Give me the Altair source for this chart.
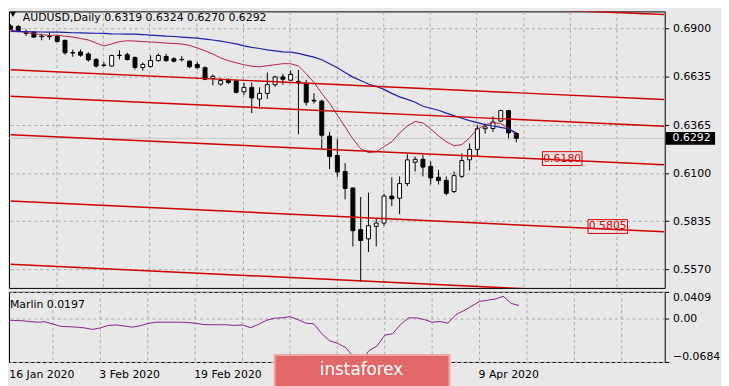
import altair as alt
import pandas as pd

FONT = "DejaVu Sans"

# ---------------- data ----------------
bar_index = list(range(66))
opens = [0.6912,0.6909,0.6874,0.6878,0.6856,0.6853,0.6855,0.6833,0.6763,0.6769,
         0.6758,0.6727,0.6694,0.6691,0.6749,0.6754,0.6738,0.6683,0.6689,0.6721,
         0.6744,0.6731,0.6726,0.6718,0.6700,0.6682,0.6622,0.6591,0.6611,0.6609,
         0.6549,0.6573,0.6509,0.6540,0.6588,0.6631,0.6613,0.6606,0.6595,0.6502,
         0.6497,0.6304,0.6197,0.6109,0.6018,0.5788,0.5737,0.5806,0.5824,0.5973,
         0.5961,0.6042,0.6160,0.6176,0.6137,0.6077,0.6060,0.5998,0.6082,0.6173,
         0.6231,0.6345,0.6346,0.6387,0.6445,0.6319]
highs = [0.6922,0.6918,0.6893,0.6884,0.6869,0.6877,0.6862,0.6836,0.6782,0.6782,
         0.6767,0.6736,0.6713,0.6754,0.6778,0.6765,0.6745,0.6711,0.6750,0.6760,
         0.6758,0.6740,0.6746,0.6722,0.6713,0.6689,0.6645,0.6624,0.6624,0.6615,
         0.6600,0.6600,0.6573,0.6655,0.6637,0.6649,0.6667,0.6670,0.6615,0.6540,
         0.6505,0.6327,0.6291,0.6155,0.6018,0.5968,0.5991,0.5851,0.5986,0.6077,
         0.6082,0.6204,0.6191,0.6200,0.6164,0.6118,0.6082,0.6109,0.6209,0.6264,
         0.6364,0.6373,0.6413,0.6449,0.6449,0.6324]
lows = [0.6890,0.6884,0.6857,0.6846,0.6833,0.6836,0.6822,0.6754,0.6742,0.6742,
        0.6716,0.6682,0.6687,0.6689,0.6727,0.6722,0.6672,0.6666,0.6682,0.6716,
        0.6714,0.6711,0.6716,0.6680,0.6673,0.6613,0.6585,0.6582,0.6591,0.6540,
        0.6531,0.6431,0.6455,0.6509,0.6577,0.6588,0.6609,0.6315,0.6473,0.6484,
        0.6236,0.6122,0.6077,0.5955,0.5695,0.5500,0.5664,0.5695,0.5809,0.5918,
        0.5873,0.6028,0.6109,0.6082,0.6037,0.6037,0.5977,0.5990,0.6073,0.6115,
        0.6191,0.6318,0.6327,0.6382,0.6286,0.6270]
closes = [0.6894,0.6887,0.6872,0.6851,0.6853,0.6855,0.6827,0.6764,0.6765,0.6751,
          0.6725,0.6691,0.6697,0.6749,0.6751,0.6727,0.6683,0.6700,0.6721,0.6749,
          0.6721,0.6718,0.6728,0.6687,0.6682,0.6618,0.6634,0.6611,0.6600,0.6546,
          0.6573,0.6515,0.6540,0.6588,0.6631,0.6618,0.6645,0.6598,0.6491,0.6498,
          0.6309,0.6191,0.6106,0.6015,0.5782,0.5728,0.5809,0.5824,0.5973,0.5958,
          0.6042,0.6173,0.6176,0.6133,0.6073,0.6059,0.5988,0.6086,0.6169,0.6231,
          0.6345,0.6355,0.6382,0.6445,0.6322,0.6292]
ma_fast = [0.6889,0.6884,0.6875,0.6870,0.6865,0.6859,0.6862,0.6856,0.6851,0.6843,
           0.6835,0.6818,0.6802,0.6813,0.6826,0.6831,0.6829,0.6826,0.6824,0.6821,
           0.6818,0.6815,0.6813,0.6805,0.6791,0.6775,0.6758,0.6736,0.6720,0.6709,
           0.6698,0.6690,0.6687,0.6693,0.6698,0.6704,0.6704,0.6691,0.6649,0.6600,
           0.6540,0.6486,0.6420,0.6355,0.6289,0.6235,0.6213,0.6218,0.6246,0.6273,
           0.6322,0.6360,0.6385,0.6377,0.6344,0.6306,0.6273,0.6251,0.6257,0.6295,
           0.6344,0.6366,0.6377,0.6374,0.6349,0.6306]
ma_slow = [0.6882,0.6881,0.6881,0.6880,0.6879,0.6878,0.6878,0.6877,0.6875,0.6874,
           0.6873,0.6872,0.6871,0.6869,0.6868,0.6867,0.6867,0.6865,0.6862,0.6859,
           0.6856,0.6854,0.6851,0.6848,0.6845,0.6840,0.6835,0.6829,0.6821,0.6813,
           0.6802,0.6794,0.6788,0.6780,0.6775,0.6769,0.6768,0.6761,0.6750,0.6740,
           0.6726,0.6704,0.6682,0.6655,0.6630,0.6611,0.6592,0.6578,0.6562,0.6540,
           0.6521,0.6507,0.6491,0.6469,0.6458,0.6447,0.6431,0.6417,0.6403,0.6390,
           0.6379,0.6368,0.6360,0.6352,0.6344,0.6322]
marlin = [-0.0030,-0.0037,-0.0040,-0.0053,-0.0064,-0.0057,-0.0091,-0.0130,-0.0134,-0.0141,
          -0.0153,-0.0176,-0.0153,-0.0114,-0.0107,-0.0122,-0.0141,-0.0122,-0.0084,-0.0064,
          -0.0064,-0.0064,-0.0064,-0.0068,-0.0079,-0.0099,-0.0104,-0.0104,-0.0104,-0.0114,
          -0.0107,-0.0150,-0.0099,-0.0037,-0.0002,0.0004,0.0024,-0.0022,-0.0079,-0.0088,
          -0.0238,-0.0353,-0.0392,-0.0453,-0.0592,-0.0676,-0.0507,-0.0438,-0.0268,-0.0242,
          -0.0099,0.0004,0.0004,-0.0022,-0.0064,-0.0053,-0.0079,0.0055,0.0116,0.0186,
          0.0260,0.0278,0.0297,0.0340,0.0229,0.0197]

# channel / trend lines (bar index, price) endpoints
line_x1 = [0, 0, 0, 0, 0, 0]
line_p1 = [0.71219, 0.66710, 0.65238, 0.63111, 0.59458, 0.55968]
line_x2 = [84, 84, 84, 84, 84, 84]
line_p2 = [0.69758, 0.65063, 0.63591, 0.61465, 0.57757, 0.54246]

level_text = ["0.6180", "0.5805"]
level_idx = [70.9, 76.75]
level_price = [0.6180, 0.5805]

price_ticks = [0.6900, 0.6635, 0.6365, 0.6100, 0.5835, 0.5570]
osc_ticks = [0.0409, 0.0, -0.0684]
grid_idx = [5.875, 11.875, 17.875, 23.875, 29.875, 35.875, 41.875, 47.875,
            53.875, 59.875, 65.875, 71.875, 77.875]
# the 6 Mar / 24 Mar labels are hidden under the watermark in the reference
date_idx = [0, 12, 24, 60]
date_text = ["16 Jan 2020", "3 Feb 2020", "19 Feb 2020", "9 Apr 2020"]

symbol_title = "AUDUSD,Daily  0.6319 0.6324 0.6270 0.6292"
last_price = [0.6292]
osc_title = "Marlin 0.0197"

# ---------------- frames ----------------
df = pd.DataFrame({"i": bar_index, "open": opens, "high": highs, "low": lows,
                   "close": closes, "ma_fast": ma_fast, "ma_slow": ma_slow,
                   "marlin": marlin})
lines_df = pd.DataFrame({"x1": line_x1, "p1": line_p1, "x2": line_x2, "p2": line_p2})
levels_df = pd.DataFrame({"i": level_idx, "p": level_price, "t": level_text})
last_df = pd.DataFrame({"p": last_price, "t": ["%.4f" % v for v in last_price]})
dates_df = pd.DataFrame({"i": date_idx, "t": date_text})

W = 664
H_MAIN = 280
H_OSC = 71
BG = "#e8e8e8"
GRID = "#a8a8a8"

xs = alt.Scale(domain=[0.4375, 83.4375], nice=False, zero=False)
ys = alt.Scale(domain=[0.5466, 0.69927], nice=False, zero=False)
os_ = alt.Scale(domain=[-0.0684, 0.0409], nice=False, zero=False)

x_axis = alt.Axis(values=grid_idx, grid=True, gridDash=[3, 3], gridColor=GRID,
                  labels=False, ticks=False, domain=False, title=None)
y_axis = alt.Axis(orient="right", values=price_ticks, format=".4f", grid=True,
                  gridDash=[3, 3], gridColor=GRID, domain=False, tickColor="black",
                  tickSize=4, labelPadding=4, labelFont=FONT, labelFontSize=11,
                  labelColor="black", title=None)

base = alt.Chart(df)

wicks = base.mark_rule(color="black", strokeWidth=1, clip=True).encode(
    x=alt.X("i:Q", scale=xs, axis=x_axis),
    y=alt.Y("low:Q", scale=ys, axis=y_axis),
    y2="high:Q",
)
bodies = base.mark_bar(size=4, stroke="black", strokeWidth=1, clip=True).encode(
    x=alt.X("i:Q", scale=xs),
    y=alt.Y("open:Q", scale=ys),
    y2="close:Q",
    fill=alt.when("datum.close >= datum.open").then(alt.value("white")).otherwise(alt.value("black")),
)
price_line = alt.Chart(last_df).mark_rule(color="#c4c4c4", strokeWidth=1).encode(
    y=alt.Y("p:Q", scale=ys)
)
ma_f = base.mark_line(color="#b5204a", strokeWidth=1, clip=True).encode(
    x=alt.X("i:Q", scale=xs), y=alt.Y("ma_fast:Q", scale=ys))
ma_s = base.mark_line(color="#2020a8", strokeWidth=1.2, clip=True).encode(
    x=alt.X("i:Q", scale=xs), y=alt.Y("ma_slow:Q", scale=ys))
chan = alt.Chart(lines_df).mark_rule(color="#d20000", strokeWidth=1.5, clip=True).encode(
    x=alt.X("x1:Q", scale=xs), x2="x2:Q",
    y=alt.Y("p1:Q", scale=ys), y2="p2:Q")

lvl_box = alt.Chart(levels_df).mark_rect(
    fillOpacity=0, stroke="#e00000", strokeWidth=1,
    xOffset=-20, x2Offset=20, yOffset=-7, y2Offset=7).encode(
    x=alt.X("i:Q", scale=xs), x2="i:Q", y=alt.Y("p:Q", scale=ys), y2="p:Q")
lvl_txt = alt.Chart(levels_df).mark_text(
    color="#e00000", font=FONT, fontSize=11, align="center", baseline="middle").encode(
    x=alt.X("i:Q", scale=xs), y=alt.Y("p:Q", scale=ys), text="t:N")

last_box = alt.Chart(last_df).mark_rect(color="black", yOffset=-6.5, y2Offset=6.5).encode(
    x=alt.value(W + 1), x2=alt.value(W + 51), y=alt.Y("p:Q", scale=ys), y2="p:Q")
last_txt = alt.Chart(last_df).mark_text(
    color="white", font=FONT, fontSize=11, align="left", baseline="middle").encode(
    x=alt.value(W + 8), y=alt.Y("p:Q", scale=ys), text="t:N")

tri = alt.Chart(last_df).mark_point(shape="triangle-down", filled=True, color="black",
                                     size=36, opacity=1).encode(
    x=alt.value(4), y=alt.value(3))
title_txt = alt.Chart(last_df).mark_text(
    text=symbol_title, font=FONT, fontSize=11, color="black", align="left",
    baseline="alphabetic").encode(x=alt.value(14), y=alt.value(10))

main = alt.layer(wicks, price_line, bodies, ma_f, ma_s, chan, lvl_box, lvl_txt,
                 last_box, last_txt, tri, title_txt).properties(width=W, height=H_MAIN)

# ---------------- oscillator panel ----------------
o_axis = alt.Axis(orient="right", values=osc_ticks,
                  labelExpr="datum.value == 0 ? '0.00' : format(datum.value, '.4f')",
                  grid=True, gridDash=[3, 3], gridColor=GRID, domain=False,
                  tickColor="black", tickSize=4, labelPadding=4, labelFont=FONT,
                  labelFontSize=11, labelColor="black", labelFlush=True, title=None)

osc_line = base.mark_line(color="#8a1f8a", strokeWidth=1, clip=True).encode(
    x=alt.X("i:Q", scale=xs, axis=x_axis),
    y=alt.Y("marlin:Q", scale=os_, axis=o_axis))
osc_title_txt = alt.Chart(last_df).mark_text(
    text=osc_title, font=FONT, fontSize=11, color="black", align="left",
    baseline="alphabetic").encode(x=alt.value(1), y=alt.value(16))
date_txt = alt.Chart(dates_df).transform_calculate(
    ix="max(datum.i, 0.6)").mark_text(
    font=FONT, fontSize=11, color="black", align="left", baseline="alphabetic", dx=-1).encode(
    x=alt.X("ix:Q", scale=xs), y=alt.value(H_OSC + 16), text="t:N")
wm_box = alt.Chart(last_df).mark_rect(color="#e06868", stroke="#f2a6a6", strokeWidth=2).encode(
    x=alt.value(269), x2=alt.value(446), y=alt.value(H_OSC - 7), y2=alt.value(H_OSC + 30))
wm_txt = alt.Chart(last_df).mark_text(
    text="instaforex", font=FONT, fontSize=17, color="white", align="center",
    baseline="alphabetic").encode(x=alt.value(357), y=alt.value(H_OSC + 13))

osc = alt.layer(osc_line, osc_title_txt, date_txt, wm_box, wm_txt).properties(
    width=W, height=H_OSC)

chart = alt.vconcat(main, osc, spacing=2).properties(
    padding=0, background=BG
).configure_view(stroke="black", strokeWidth=1, fill=BG)

chart.save("out.html", embed_options={"renderer": "svg", "actions": False})
